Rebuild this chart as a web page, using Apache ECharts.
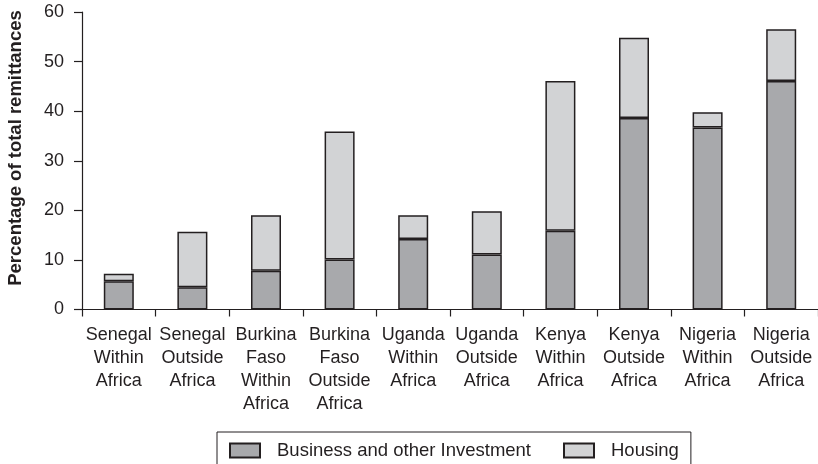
<!DOCTYPE html>
<html>
<head>
<meta charset="utf-8">
<title>Remittances</title>
<script src="https://cdn.jsdelivr.net/npm/echarts@6/dist/echarts.min.js"></script>
<style>
  html, body { margin: 0; padding: 0; background: #fff; }
  #chart { width: 818px; height: 464px; }
</style>
</head>
<body>
<div id="chart"></div>
<script>
// categories (x axis)
var categories = [
    'Senegal\nWithin\nAfrica', 'Senegal\nOutside\nAfrica',
    'Burkina\nFaso\nWithin\nAfrica', 'Burkina\nFaso\nOutside\nAfrica',
    'Uganda\nWithin\nAfrica', 'Uganda\nOutside\nAfrica',
    'Kenya\nWithin\nAfrica', 'Kenya\nOutside\nAfrica',
    'Nigeria\nWithin\nAfrica', 'Nigeria\nOutside\nAfrica'
];
// percentage of total remittances
var business = [5.7, 4.5, 7.8, 10.1, 14.2, 11.1, 15.9, 38.6, 36.7, 46.1];
var housing  = [1.5, 11.2, 11.2, 25.8, 4.8, 8.7, 30.2, 16.2, 3.1, 10.4];
var yTicks = [0, 10, 20, 30, 40, 50, 60];

var textColor = '#231f20';
var font = 'Liberation Sans, Arial, sans-serif';

var chart = echarts.init(document.getElementById('chart'));

var option = {
    backgroundColor: '#fff',
    animation: false,
    textStyle: { fontFamily: font, color: textColor },
    grid: { left: 82, right: -4, top: 12, bottom: 154.5, containLabel: false },
    legend: {
        left: 217,
        top: 432,
        padding: [9, 12, 12, 12],
        borderColor: '#231f20',
        borderWidth: 1,
        itemWidth: 30,
        itemHeight: 14,
        itemGap: 32,
        icon: 'rect',
        textStyle: { fontSize: 18.5, color: textColor, fontFamily: font, padding: [0, 0, 0, 12] },
        data: ['Business and other Investment', 'Housing']
    },
    graphic: [{
        type: 'text',
        x: 16,
        y: 148,
        rotation: Math.PI / 2,
        style: {
            text: 'Percentage of total remittances',
            fontSize: 18.5,
            fontWeight: 'bold',
            fontFamily: font,
            fill: textColor,
            align: 'center',
            verticalAlign: 'middle'
        }
    }],
    xAxis: {
        type: 'category',
        data: categories,
        boundaryGap: true,
        axisLine: { lineStyle: { color: textColor, width: 1.2 } },
        axisTick: { show: true, length: 7, alignWithLabel: false, lineStyle: { color: textColor, width: 1.2 } },
        axisLabel: {
            interval: 0,
            margin: 14,
            fontSize: 18,
            lineHeight: 23,
            color: textColor,
            fontFamily: font,
            align: 'center'
        }
    },
    yAxis: {
        type: 'value',
        min: yTicks[0],
        max: yTicks[yTicks.length - 1],
        interval: 10,
        splitLine: { show: false },
        axisLine: { show: true, lineStyle: { color: textColor, width: 1.2 } },
        axisTick: { show: true, length: 8, lineStyle: { color: textColor, width: 1.2 } },
        axisLabel: { fontSize: 18, margin: 18, color: textColor, fontFamily: font }
    },
    series: [
        {
            name: 'Business and other Investment',
            type: 'bar',
            stack: 'total',
            barWidth: 30,
            data: business,
            itemStyle: { color: '#a8a9ac', borderColor: '#231f20', borderWidth: 1.5 }
        },
        {
            name: 'Housing',
            type: 'bar',
            stack: 'total',
            barWidth: 30,
            data: housing,
            itemStyle: { color: '#d2d3d5', borderColor: '#231f20', borderWidth: 1.5 }
        }
    ]
};

chart.setOption(option);
window.onresize = function () {
    chart.resize();
};
</script>
</body>
</html>
